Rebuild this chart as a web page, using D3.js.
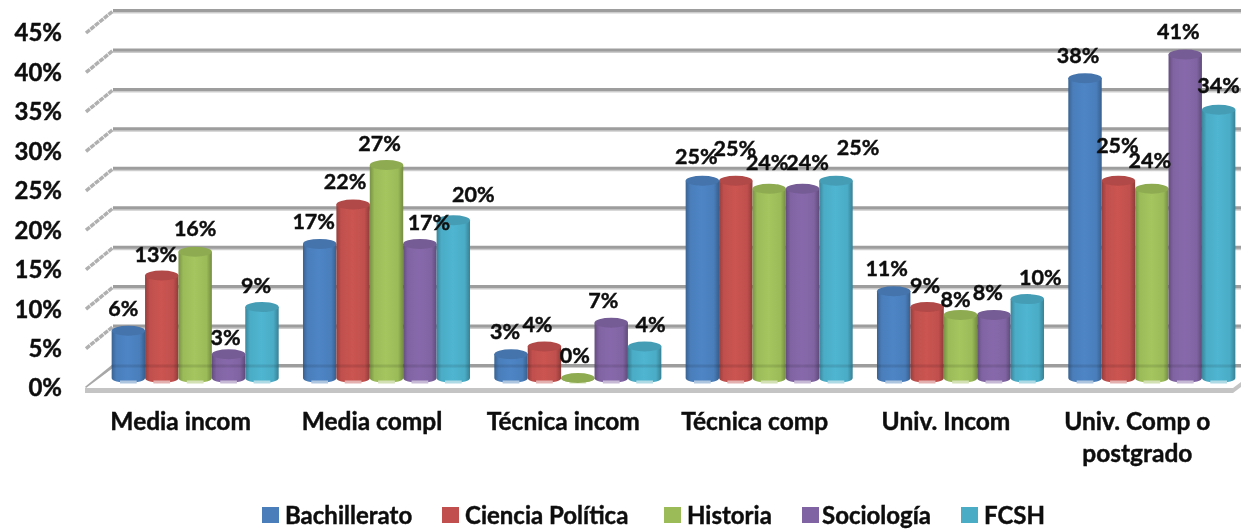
<!DOCTYPE html>
<html>
<head>
<meta charset="utf-8">
<script src="https://cdn.jsdelivr.net/npm/d3@7"></script>
<style>
  html, body { margin: 0; padding: 0; background: #fff; }
  svg { display: block; }
  text { font-family: Lato, "Open Sans", sans-serif; font-weight: 700; fill: #111; stroke: #111; stroke-width: 0.45px; }
</style>
</head>
<body>
<div id="chart"></div>
<script>
const categories = ['Media incom', 'Media compl', 'Técnica incom', 'Técnica comp', 'Univ. Incom', 'Univ. Comp o postgrado']
const seriesNames = ['Bachillerato', 'Ciencia Política', 'Historia', 'Sociología', 'FCSH']
const bachillerato = [6, 17, 3, 25, 11, 38]
const cienciaPolitica = [13, 22, 4, 25, 9, 25]
const historia = [16, 27, 0, 24, 8, 24]
const sociologia = [3, 17, 7, 24, 8, 41]
const fcsh = [9, 20, 4, 25, 10, 34]
const seriesValues = [bachillerato, cienciaPolitica, historia, sociologia, fcsh]
const yTicks = [0, 5, 10, 15, 20, 25, 30, 35, 40, 45]

const colors = ['#4a7ebb', '#c0504d', '#9bbb59', '#8064a2', '#4bacc6']

// hand placed data labels, [dx, dy] from the top of each bar, series by category
const labelNudges = [
  [[-5, -22], [-6, -22], [-6, -23], [-6, -24], [-7, -23], [-7, -23]],
  [[-6, -21], [-8, -23], [-7, -22], [-1, -32], [-2, -22], [-1, -35]],
  [[0, -23], [-7, -22], [-3, -23], [-2, -26], [-5, -15], [-2, -28]],
  [[-3, -17], [9, -21], [-8, -22], [5, -26], [-6, -22], [-7, -23]],
  [[-6, -22], [20, -26], [6, -22], [22, -33], [13, -22], [0, -24]]
]

const width = 1241
const height = 530
const depth = { x: 27, y: -22 }
const barDepth = { x: 14.5, y: -10 }
const ry = 5

const x0 = d3.scaleBand().domain(categories).range([85, 1233]).paddingInner(0.127).paddingOuter(0.0635)
const x1 = d3.scaleBand().domain(seriesNames).range([0, x0.bandwidth()])
const y = d3.scaleLinear().domain([0, 45]).range([388, 33])

const svg = d3.select('#chart').append('svg').attr('width', width).attr('height', height)
const defs = svg.append('defs')

defs.append('filter').attr('id', 'soft')
  .attr('filterUnits', 'userSpaceOnUse')
  .attr('x', 0).attr('y', 0)
  .attr('width', width).attr('height', height)
  .append('feGaussianBlur').attr('stdDeviation', 0.6)

colors.forEach((c, i) => {
  const base = d3.color(c)
  const grad = defs.append('linearGradient').attr('id', 'cyl-' + i)
  grad.append('stop').attr('offset', '0%').attr('stop-color', base.darker(0.7))
  grad.append('stop').attr('offset', '14%').attr('stop-color', base)
  grad.append('stop').attr('offset', '48%').attr('stop-color', base.brighter(0.15))
  grad.append('stop').attr('offset', '84%').attr('stop-color', base)
  grad.append('stop').attr('offset', '100%').attr('stop-color', base.darker(0.8))
})

const root = svg.append('g').attr('filter', 'url(#soft)')

// walls and floor
const grid = root.append('g')
yTicks.forEach(t => {
  const yb = y(t) + depth.y
  if (t > 0) {
    grid.append('line').attr('x1', 86).attr('y1', y(t)).attr('x2', 86 + depth.x).attr('y2', yb)
      .attr('stroke', '#b0b0b0').attr('stroke-width', 3.5).attr('stroke-dasharray', '5 0.8')
  }
  grid.append('line').attr('x1', 86 + depth.x).attr('y1', yb + 1.5).attr('x2', width).attr('y2', yb + 1.5)
    .attr('stroke', '#cdcdcd').attr('stroke-width', 2)
  grid.append('line').attr('x1', 86 + depth.x).attr('y1', yb - 0.5).attr('x2', width).attr('y2', yb - 0.5)
    .attr('stroke', '#9d9d9d').attr('stroke-width', 3)
})
grid.append('line').attr('x1', 86).attr('y1', y(0)).attr('x2', 86 + depth.x).attr('y2', y(0) + depth.y)
  .attr('stroke', '#a8a8a8').attr('stroke-width', 3)
grid.append('path')
  .attr('fill', '#fff')
  .attr('d', 'M86,' + y(0) + 'L' + (86 + depth.x) + ',' + (y(0) + depth.y + 2) + 'L' + width + ',' + (y(0) + depth.y + 2) + 'L' + width + ',' + (y(0) - 5) + 'L1233,' + y(0) + 'Z')
grid.append('path')
  .attr('fill', '#c4c4c4')
  .attr('d', 'M85,' + y(0) + 'L1233,' + y(0) + 'L' + width + ',' + (y(0) - 6) + 'L' + width + ',' + (y(0) - 1) + 'L1233,' + (y(0) + 5) + 'L85,' + (y(0) + 5) + 'Z')

// bars
const barTop = v => y(v) + barDepth.y
const barBase = y(0) + barDepth.y
seriesNames.forEach((name, i) => {
  const g = root.append('g').attr('class', 'series')
  const bars = g.selectAll('g').data(categories.map((c, j) => ({ c, v: seriesValues[i][j] }))).enter().append('g')
    .attr('transform', d => 'translate(' + (x0(d.c) + barDepth.x + x1(name)) + ',0)')
  const w = x1.bandwidth()
  const dark = d3.color(colors[i]).darker(0.25)
  bars.append('path')
    .attr('fill', 'url(#cyl-' + i + ')')
    .attr('d', d => {
      const yt = barTop(d.v)
      return 'M0,' + yt + 'L0,' + barBase + 'A' + w / 2 + ',' + ry + ' 0 0 0 ' + w + ',' + barBase + 'L' + w + ',' + yt + 'Z'
    })
  // floor line showing through, and the pale reflection at the foot
  bars.filter(d => d.v > 1).append('line')
    .attr('x1', 0).attr('x2', w)
    .attr('y1', y(0) + depth.y).attr('y2', y(0) + depth.y)
    .attr('stroke', '#000').attr('stroke-opacity', 0.1).attr('stroke-width', 3)
  bars.append('rect')
    .attr('x', w * 0.25).attr('y', barBase + 2.5).attr('width', w * 0.5).attr('height', 3)
    .attr('fill', d3.interpolateRgb(colors[i], '#fff')(0.55))
  bars.append('ellipse')
    .attr('cx', w / 2).attr('cy', d => barTop(d.v)).attr('rx', w / 2).attr('ry', ry)
    .attr('fill', dark)
})

// data labels
seriesNames.forEach((name, i) => {
  root.append('g').selectAll('text').data(categories.map((c, j) => ({ c, j, v: seriesValues[i][j] }))).enter().append('text')
    .attr('x', d => x0(d.c) + barDepth.x + x1(name) + x1.bandwidth() / 2 + labelNudges[i][d.j][0])
    .attr('y', d => barTop(d.v) + labelNudges[i][d.j][1])
    .attr('dy', '0.35em')
    .attr('text-anchor', 'middle')
    .attr('font-size', 21.5)
    .text(d => d.v + '%')
})

// y axis labels
root.append('g').selectAll('text').data(yTicks).enter().append('text')
  .attr('x', 62)
  .attr('y', d => y(d))
  .attr('dy', '0.35em')
  .attr('text-anchor', 'end')
  .attr('font-size', 24)
  .text(d => d + '%')

// category labels, wrapped on two lines where needed
const catWrap = { 'Univ. Comp o postgrado': ['Univ. Comp o', 'postgrado'] }
categories.forEach(c => {
  const lines = catWrap[c] || [c]
  lines.forEach((line, k) => {
    root.append('text')
      .attr('x', x0(c) + x0.bandwidth() / 2)
      .attr('y', 421 + k * 32)
      .attr('dy', '0.35em')
      .attr('text-anchor', 'middle')
      .attr('font-size', 24.5)
      .text(line)
  })
})

// legend
const legendX = d3.scaleOrdinal().domain(seriesNames).range([262, 442, 664, 802, 961])
const legend = root.append('g').selectAll('g').data(seriesNames).enter().append('g')
  .attr('transform', d => 'translate(' + legendX(d) + ',507)')
legend.append('rect').attr('width', 17).attr('height', 16).attr('fill', (d, i) => colors[i])
legend.append('text').attr('x', d => d === 'Sociología' ? 20 : 23).attr('y', 9).attr('dy', '0.35em').attr('font-size', 24).text(d => d)
</script>
</body>
</html>
